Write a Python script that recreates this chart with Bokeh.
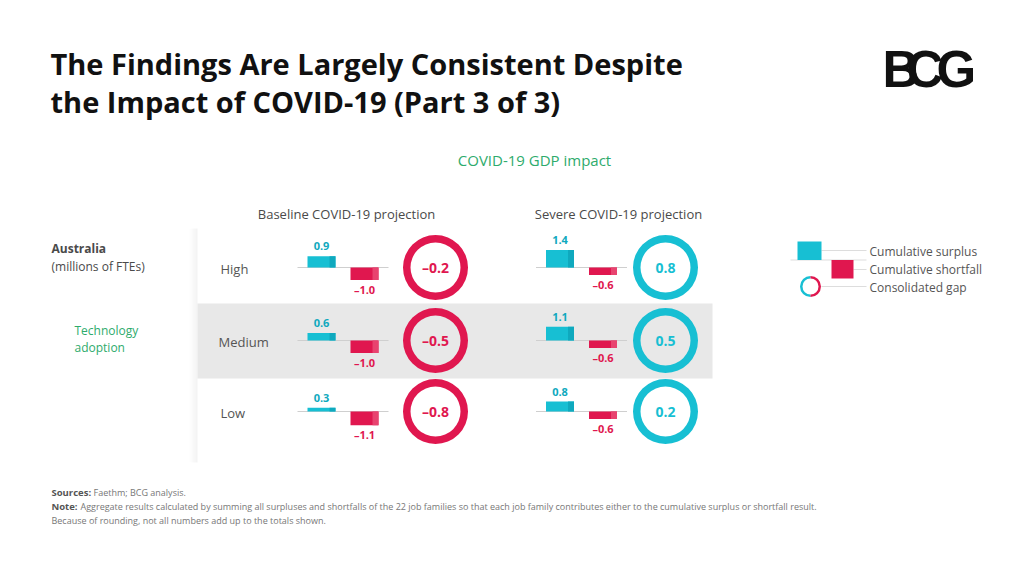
from bokeh.plotting import figure
from bokeh.models import Range1d, ColumnDataSource
from bokeh.core.properties import value
from bokeh.embed import file_html
from bokeh.resources import INLINE
import math

# ---------------- data ----------------
tech_levels = ["High", "Medium", "Low"]
scenarios = ["Baseline COVID-19 projection", "Severe COVID-19 projection"]
baseline_surplus = [0.9, 0.6, 0.3]
baseline_shortfall = [-1.0, -1.0, -1.1]
baseline_gap = [-0.2, -0.5, -0.8]
severe_surplus = [1.4, 1.1, 0.8]
severe_shortfall = [-0.6, -0.6, -0.6]
severe_gap = [0.8, 0.5, 0.2]
legend_labels = ["Cumulative surplus", "Cumulative shortfall", "Consolidated gap"]

TEAL = "#17bfd3"
TEAL_D = "#0fa9be"
RED = "#e0174f"
GREEN = "#2eab6c"
GRAY_T = "#4a4a4a"
FONT = "Open Sans"

def fmt(v):
    s = f"{abs(v):.1f}"
    return ("\u2013" + s) if v < 0 else s

p = figure(width=1024, height=576, x_range=Range1d(0, 1024), y_range=Range1d(576, 0),
           output_backend="svg", toolbar_location=None, min_border=0)
p.axis.visible = False
p.grid.visible = False
p.outline_line_color = None
p.background_fill_color = "white"
p.border_fill_color = "white"

def txt(x, y, t, size, color=GRAY_T, bold=False, align="left", font=FONT, baseline="middle"):
    p.text(x=[x], y=[y], text=[t], text_font=value(font), text_font_size=size,
           text_color=color, text_font_style="bold" if bold else "normal",
           text_align=align, text_baseline=baseline)

# ---------------- title & logo ----------------
txt(50, 63, "The Findings Are Largely Consistent Despite", "29px", "#111111", True)
txt(50, 101, "the Impact of COVID-19 (Part 3 of 3)", "29px", "#111111", True)
for lx, letter in [(882, "B"), (906, "C"), (936, "G")]:
    txt(lx, 69, letter, "51px", "#111111", True, font="Liberation Sans")

# ---------------- panel ----------------
row_top = [228, 303, 378]
row_bot = [303, 378, 455]
row_mid = [267, 340, 411]
panel_l, panel_r = 197, 712
for i in range(8):
    p.quad(left=[panel_l - 8 + i], right=[panel_l - 7 + i], top=[row_top[0]], bottom=[462],
           fill_color="#000000", fill_alpha=0.006 * (i + 1), line_color=None)
p.quad(left=[panel_l], right=[panel_r], top=[row_top[1]], bottom=[row_bot[1]],
       fill_color="#e8e8e8", line_color=None)

txt(534, 159, "COVID-19 GDP impact", "15px", GREEN, align="center")
col_center = [346, 618]
for c, s in zip(col_center, scenarios):
    txt(c, 213, s, "13px", GRAY_T, align="center")

txt(51, 248, "Australia", "12px", GRAY_T, True)
txt(51, 266, "(millions of FTEs)", "12px", GRAY_T)
txt(74, 330, "Technology", "12px", GREEN)
txt(74, 347, "adoption", "12px", GREEN)

for lbl, y in zip(tech_levels, row_mid):
    txt(218 if lbl == "Medium" else 220, y + 1, lbl, "13px", "#555555")

# ---------------- bars & circles ----------------
SCALE = 12.5
BW = 28
cols = [
    dict(sx=321, fx=364, cx=435, sur=baseline_surplus, sho=baseline_shortfall, gap=baseline_gap),
    dict(sx=559.5, fx=602.5, cx=665, sur=severe_surplus, sho=severe_shortfall, gap=severe_gap),
]
for col in cols:
    sx, fx, cx = col["sx"], col["fx"], col["cx"]
    p.segment(x0=[sx - BW / 2 - 10] * 3, x1=[fx + BW / 2 + 10] * 3, y0=row_mid, y1=row_mid,
              line_color="#cfcfcf", line_width=1)
    sur_top = [m - v * SCALE for m, v in zip(row_mid, col["sur"])]
    sho_bot = [m - v * SCALE for m, v in zip(row_mid, col["sho"])]
    src = ColumnDataSource(dict(
        sl=[sx - BW / 2] * 3, sr=[sx + BW / 2] * 3, sdr=[sx + BW / 2 - 6] * 3,
        fl=[fx - BW / 2] * 3, fr=[fx + BW / 2] * 3, fdr=[fx + BW / 2 - 6] * 3,
        mid=row_mid, stop=sur_top, fbot=sho_bot,
        slab=[fmt(v) for v in col["sur"]], flab=[fmt(v) for v in col["sho"]],
        sly=[t - 10 for t in sur_top], fly=[b + 9 for b in sho_bot],
        gx=[cx] * 3, glab=[fmt(v) for v in col["gap"]],
        gcol=[RED if v < 0 else TEAL for v in col["gap"]],
    ))
    p.quad(left="sl", right="sr", top="stop", bottom="mid", source=src, fill_color=TEAL, line_color=None)
    p.quad(left="sdr", right="sr", top="stop", bottom="mid", source=src, fill_color=TEAL_D, line_color=None)
    p.quad(left="fl", right="fr", top="mid", bottom="fbot", source=src, fill_color=RED, line_color=None)
    p.quad(left="fdr", right="fr", top="mid", bottom="fbot", source=src, fill_color="#e8436f", line_color=None)
    p.text(x="sr", y="sly", text="slab", source=src, text_font=value(FONT), text_font_size="11px",
           text_font_style="bold", text_color=TEAL_D, text_align="center", text_baseline="middle",
           x_offset=-BW / 2)
    p.text(x="fr", y="fly", text="flab", source=src, text_font=value(FONT), text_font_size="11px",
           text_font_style="bold", text_color=RED, text_align="center", text_baseline="middle",
           x_offset=-BW / 2)
    p.annulus(x="gx", y="mid", inner_radius=25, outer_radius=32.5, source=src,
              fill_color="gcol", line_color=None)
    p.text(x="gx", y="mid", text="glab", source=src, text_font=value(FONT), text_font_size="14px",
           text_font_style="bold", text_color="gcol", text_align="center", text_baseline="middle")

# ---------------- legend ----------------
LG = "#dddddd"
p.segment(x0=[790, 821, 853, 821], x1=[866, 866, 866, 866], y0=[259.5, 250, 269, 286],
          y1=[259.5, 250, 269, 286], line_color=LG, line_width=1)
p.quad(left=[797], right=[821], top=[241], bottom=[259.5], fill_color=TEAL, line_color=None)
p.quad(left=[831], right=[853], top=[259.5], bottom=[278], fill_color=RED, line_color=None)
p.annular_wedge(x=[810, 810], y=[286, 286], inner_radius=8, outer_radius=10.5,
                start_angle=[math.pi / 2, -math.pi / 2], end_angle=[3 * math.pi / 2, math.pi / 2],
                fill_color=[TEAL, RED], line_color=None)
for lbl, y in zip(legend_labels, [251, 269, 287]):
    txt(869, y, lbl, "12px", "#555555")

# ---------------- footnotes ----------------
txt(51, 492, "Sources:", "9.5px", "#555555", True)
txt(93, 492, "Faethm; BCG analysis.", "9px", "#777777")
txt(51, 506, "Note:", "9.5px", "#555555", True)
txt(80, 506, "Aggregate results calculated by summing all surpluses and shortfalls of the 22 job families so that each job family contributes either to the cumulative surplus or shortfall result.", "9px", "#777777")
txt(51, 520, "Because of rounding, not all numbers add up to the totals shown.", "9px", "#777777")

open("out.html", "w").write(file_html(p, INLINE))
